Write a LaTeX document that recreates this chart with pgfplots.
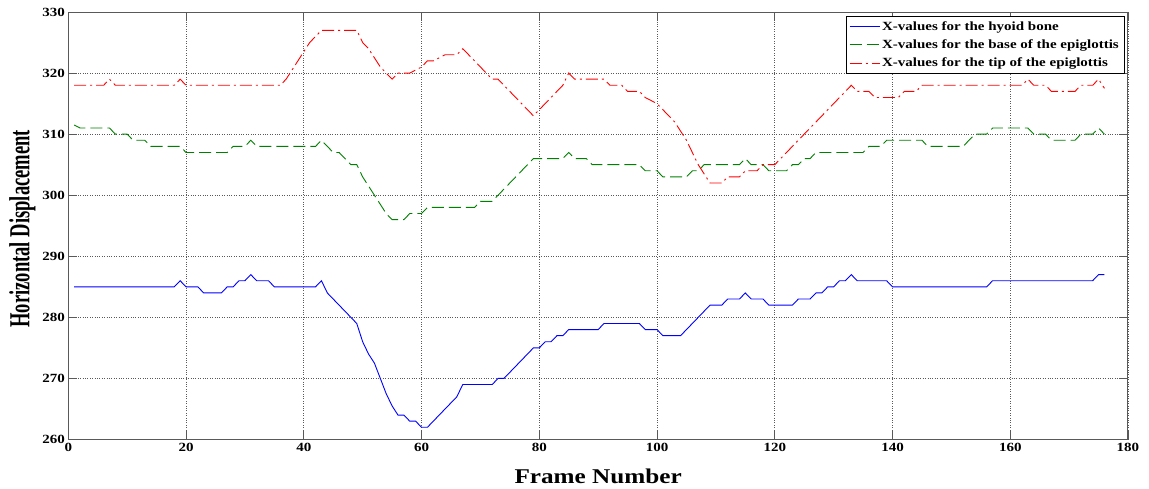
\documentclass[border=0pt]{standalone}
\usepackage{fontspec}
\setmainfont{Liberation Serif}[FakeStretch=1.2]
\newfontfamily\ylfont{Liberation Serif}[FakeStretch=0.64]
\usepackage{pgfplots}
\pgfplotsset{compat=1.18}
\definecolor{mgreen}{rgb}{0,0.5,0}
\definecolor{axgray}{gray}{0.35}

\tikzset{
  hyoidline/.style={draw=blue, line width=0.9pt, solid},
  baseline/.style={draw=mgreen, line width=0.9pt, dash pattern=on 12pt off 5pt},
  tipline/.style={draw=red, line width=0.9pt, dash pattern=on 12pt off 4pt on 2pt off 4pt},
}

\begin{document}
\begin{tikzpicture}
\begin{axis}[
  scale only axis, width=1059.7pt, height=427.5pt,
  xmin=0, xmax=180, ymin=260, ymax=330,
  xtick={0,20,...,180}, ytick={260,270,...,330},
  grid=major,
  grid style={dotted, gray!70!black, line width=0.8pt},
  tick align=inside, major tick length=9pt,
  tick style={axgray, line width=0.8pt},
  axis line style={axgray, line width=1pt},
  /pgf/number format/assume math mode=true,
  ticklabel style={font=\fontsize{12.5}{14}\selectfont\bfseries},
  xlabel={Frame Number}, ylabel={Horizontal Displacement},
  every axis x label/.style={at={(rel axis cs:0.5,0)}, yshift=-36.5pt, anchor=center},
  every axis y label/.style={at={(rel axis cs:0,0.5)}, xshift=-46pt, yshift=-3pt, rotate=90, anchor=center},
  xlabel style={font=\fontsize{21}{24}\selectfont\bfseries},
  ylabel style={font=\ylfont\fontsize{29}{32}\selectfont\bfseries},
  legend style={at={(rel axis cs:1,1)}, anchor=north east, xshift=-4pt, yshift=-4pt,
    font=\fontsize{12.5}{14}\selectfont\bfseries, row sep=4pt, inner ysep=3pt},
  legend cell align=left,
]
\coordinate (sw) at (rel axis cs:0,0);

% hyoid bone
\addplot[hyoidline, legend image code/.code={\draw[hyoidline] (0pt,0pt) -- (30pt,0pt);}] coordinates {
 (1,285)(18,285)(19,286)(20,285)(22,285)(23,284)(26,284)(27,285)(28,285)
 (29,286)(30,286)(31,287)(32,286)(34,286)(35,285)(42,285)(43,286)(44,284)
 (45,283)(46,282)(47,281)(48,280)(49,279)(50,276)(51,274)(52,272.5)(53,270)
 (54,267.5)(55,265.5)(56,264)(57,264)(58,263)(59,263)(60,262)(61,262)(62,263)
 (63,264)(64,265)(65,266)(66,267)(67,269)(72,269)(73,270)(74,270)(75,271)
 (76,272)(77,273)(78,274)(79,275)(80,275)(81,276)(82,276)(83,277)(84,277)
 (85,278)(90,278)(91,279)(97,279)(98,278)(100,278)(101,277)(104,277)(105,278)
 (106,279)(107,280)(108,281)(109,282)(111,282)(112,283)(114,283)(115,284)
 (116,283)(118,283)(119,282)(123,282)(124,283)(126,283)(127,284)(128,284)
 (129,285)(130,285)(131,286)(132,286)(133,287)(134,286)(139,286)(140,285)
 (156,285)(157,286)(174,286)(175,287)(176,287)
};
\addlegendentry{X-values for the hyoid bone}

% base of the epiglottis
\addplot[baseline, legend image code/.code={\draw[baseline] (0pt,0pt) -- (30pt,0pt);}] coordinates {
 (1,311.5)(2,311)(7,311)(8,310)(10,310)(11,309)(13,309)(14,308)(19,308)
 (20,307)(27,307)(28,308)(30,308)(31,309)(32,308)(42,308)(43,309)(44,308)
 (45,307)(46,307)(47,306)(48,305)(49,305)(50,303)(51,301.5)(52,300)(53,298.5)
 (54,297)(55,296)(57,296)(58,297)(60,297)(61,298)(69,298)(70,299)(72,299)
 (73,300)(74,301)(75,302)(76,303)(77,304)(78,305)(79,306)(84,306)(85,307)
 (86,306)(88,306)(89,305)(97,305)(98,304)(100,304)(101,303)(105,303)(106,304)
 (107,304)(108,305)(114,305)(115,306)(116,305)(118,305)(119,304)(122,304)
 (123,305)(124,305)(125,306)(126,306)(127,307)(135,307)(136,308)(138,308)
 (139,309)(145,309)(146,308)(152,308)(153,309)(154,310)(156,310)(157,311)
 (163,311)(164,310)(166,310)(167,309)(171,309)(172,310)(174,310)(175,311)
 (176,310)
};
\addlegendentry{X-values for the base of the epiglottis}

% tip of the epiglottis
\addplot[tipline, legend image code/.code={\draw[tipline] (0pt,0pt) -- (30pt,0pt);}] coordinates {
 (1,318)(6,318)(7,319)(8,318)(18,318)(19,319)(20,318)(36,318)(37,319)
 (38,320.5)(39,322)(40,323.5)(41,325)(42,326)(43,327)(49,327)(50,325)(51,324)
 (52,322.5)(53,321)(54,320)(55,319)(56,320)(58,320)(59,320.5)(60,321)(61,322)
 (62,322)(63,322.5)(64,323)(66,323)(67,324)(68,323)(69,322)(70,321)(71,320)
 (72,319)(73,319)(74,318)(75,317)(76,316)(77,315)(78,314)(79,313)(80,314)
 (81,315)(82,316)(83,317)(84,318)(85,320)(86,319)(91,319)(92,318)(94,318)
 (95,317)(97,317)(98,316)(100,315)(101,314)(102,313)(103,312)(104,310.5)
 (105,309)(106,307)(107,305)(108,303.5)(109,302)(111,302)(112,303)(114,303)
 (115,304)(117,304)(118,305)(120,305)(121,306)(122,307)(123,308)(124,309)
 (125,310)(126,311)(127,312)(128,313)(129,314)(130,315)(131,316)(132,317)
 (133,318)(134,317)(136,317)(137,316)(141,316)(142,317)(144,317)(145,318)
 (162,318)(163,319)(164,318)(166,318)(167,317)(171,317)(172,318)(174,318)
 (175,319)(176,317.5)
};
\addlegendentry{X-values for the tip of the epiglottis}
\end{axis}
\pgfresetboundingbox
\path[use as bounding box] (sw) ++(-68.3pt,-48.5pt) rectangle ++(1149pt,488pt);
\end{tikzpicture}
\end{document}
